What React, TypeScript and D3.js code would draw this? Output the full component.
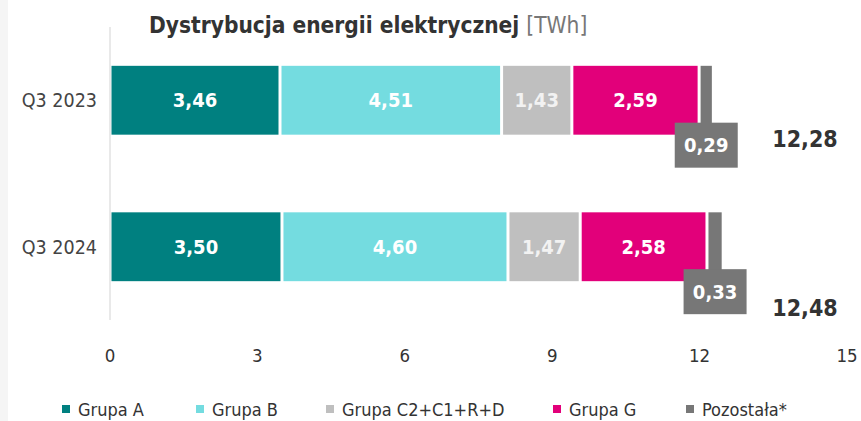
import React from "react";
import * as d3 from "d3";

const categories = ["Q3 2023", "Q3 2024"];
const seriesNames = ["Grupa A", "Grupa B", "Grupa C2+C1+R+D", "Grupa G", "Pozostała*"];
const seriesColors = ["#008080", "#74DCE0", "#BFBFBF", "#E2007A", "#777777"];
const grupaA = [3.46, 3.5];
const grupaB = [4.51, 4.6];
const grupaC = [1.43, 1.47];
const grupaG = [2.59, 2.58];
const pozostala = [0.29, 0.33];
const totals = [12.28, 12.48];
const xTicks = [0, 3, 6, 9, 12, 15];

const W = 861;
const H = 421;
const FONT = "'Liberation Sans Narrow', 'DejaVu Sans Condensed', 'Roboto', sans-serif";

const fmt = (v: number) => v.toFixed(2).replace(".", ",");

export default function App() {
  const x = d3.scaleLinear().domain([0, 15]).range([110, 847]);
  const y = d3.scaleBand().domain(categories).range([27, 320]).paddingInner(0.53).paddingOuter(0.265);
  const bh = y.bandwidth();

  const rows = categories.map((c, i) => ({
    cat: c,
    vals: [grupaA[i], grupaB[i], grupaC[i], grupaG[i], pozostala[i]],
  }));
  const totalOffsets = [39, 61];

  const legendX = [62, 196, 326, 553, 686];

  return (
    <div style={{ position: "fixed", left: 0, top: 0, width: W, height: H, overflow: "hidden" }}>
      <svg width={W} height={H} style={{ display: "block", fontFamily: FONT }}>
        <rect x={0} y={0} width={W} height={H} fill="#ffffff" />
        <rect x={0} y={0} width={8} height={H} fill="#f5f5f5" />
        <text x={149} y={33} fontSize={22.5} fontWeight={600} fill="#333333">
          Dystrybucja energii elektrycznej <tspan fill="#777777" fontWeight={400}>[TWh]</tspan>
        </text>
        <line x1={x(0)} x2={x(0)} y1={27} y2={320} stroke="#e2e2e2" strokeWidth={1.5} />
        {rows.map((r, ri) => {
          const y0 = y(r.cat)!;
          let acc = 0;
          return (
            <g key={r.cat}>
              <text x={97} y={y0 + bh / 2 + 7} textAnchor="end" fontSize={19.5} fill="#444444">
                {r.cat}
              </text>
              {r.vals.map((v, si) => {
                const a = acc;
                acc += v;
                const x0 = x(a) + 1.5;
                const x1 = x(acc) - 1.5;
                const cx = (x0 + x1) / 2;
                const last = si === r.vals.length - 1;
                return (
                  <g key={si}>
                    <rect x={x0} y={y0} width={x1 - x0} height={bh} fill={seriesColors[si]} />
                    {!last ? (
                      <text x={cx} y={y0 + bh / 2 + 7} textAnchor="middle" fontSize={20} fontWeight={700} fill={si === 2 ? "#f2f2f2" : "#ffffff"}>
                        {fmt(v)}
                      </text>
                    ) : (
                      <g>
                        <rect x={cx - 31.5} y={y0 + bh - 12} width={63} height={45} fill="#777777" />
                        <text x={cx} y={y0 + bh - 12 + 22.5 + 7} textAnchor="middle" fontSize={20} fontWeight={700} fill="#ffffff">
                          {fmt(v)}
                        </text>
                      </g>
                    )}
                  </g>
                );
              })}
              <text x={x(15) - 42} y={y0 + bh / 2 + totalOffsets[ri] + 8} textAnchor="middle" fontSize={23} fontWeight={700} fill="#333333">
                {fmt(totals[ri])}
              </text>
            </g>
          );
        })}
        {xTicks.map((t) => (
          <text key={t} x={x(t)} y={362} textAnchor="middle" fontSize={18.5} fill="#333333">
            {t}
          </text>
        ))}
        {seriesNames.map((n, i) => (
          <g key={n}>
            <rect x={legendX[i]} y={405} width={8} height={8} fill={seriesColors[i]} />
            <text x={legendX[i] + 16} y={415.5} fontSize={18} fill="#333333">
              {n}
            </text>
          </g>
        ))}
      </svg>
    </div>
  );
}
